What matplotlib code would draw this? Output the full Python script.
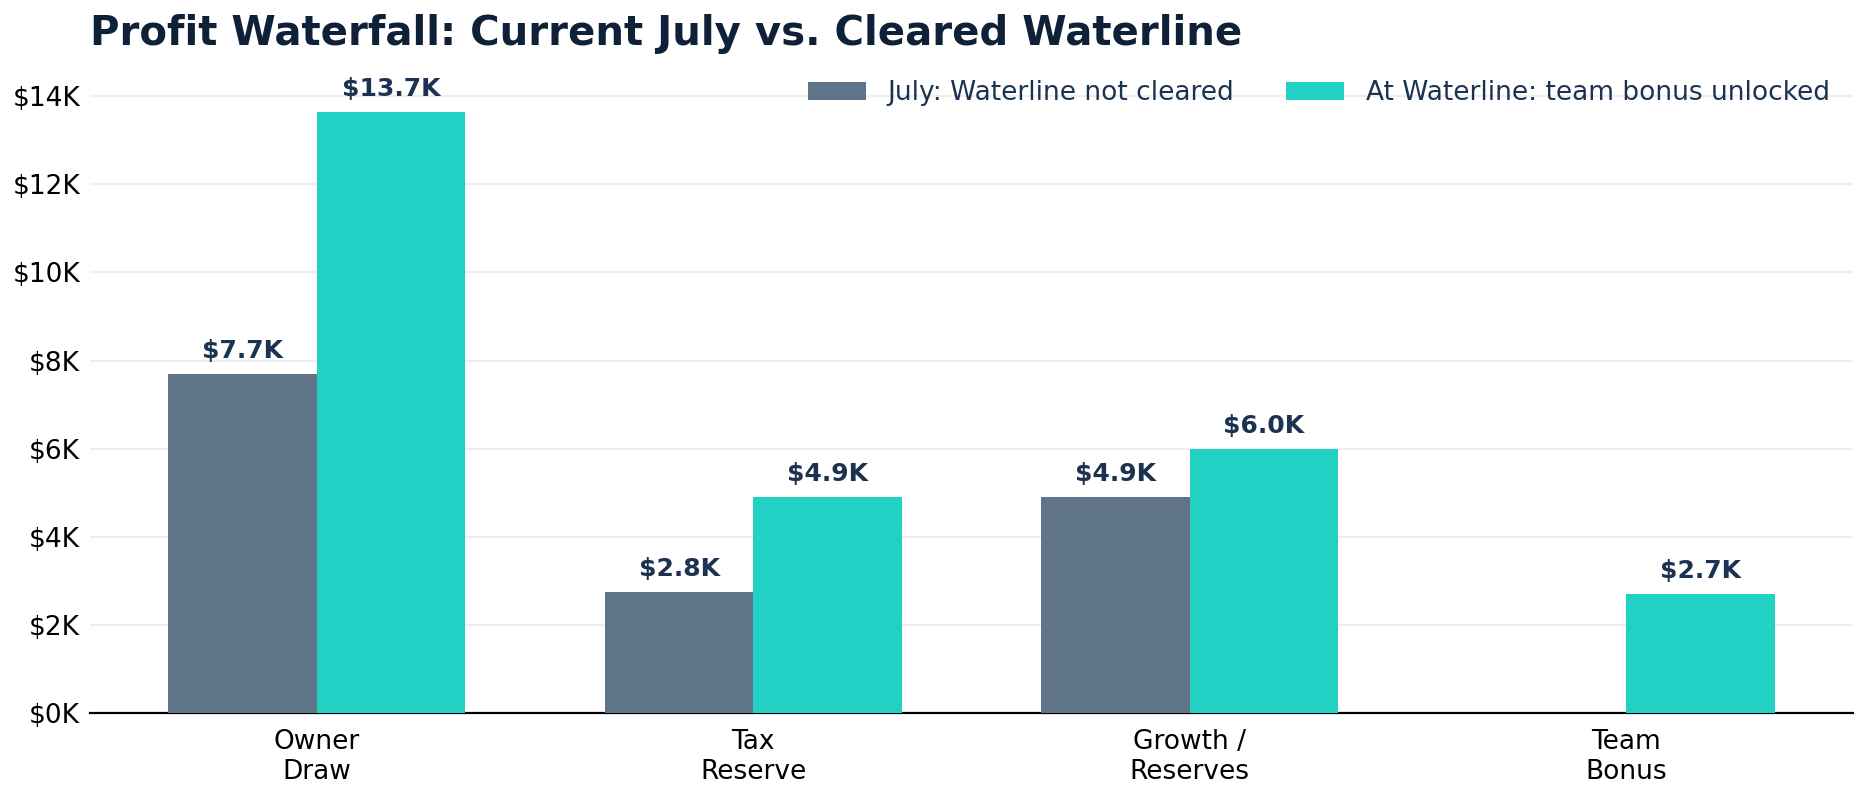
import matplotlib
matplotlib.use("Agg")
import matplotlib.pyplot as plt
import numpy as np
from matplotlib.ticker import FuncFormatter

categories = ["Owner\nDraw", "Tax\nReserve", "Growth /\nReserves", "Team\nBonus"]
july = [7700, 2750, 4900, 0]
waterline = [13650, 4900, 6000, 2700]
series_names = ["July: Waterline not cleared", "At Waterline: team bonus unlocked"]

fig = plt.figure(figsize=(9.36, 4.05), dpi=200)
ax = fig.add_axes([0.048, 0.12, 0.942, 0.81])
x = np.arange(len(categories))
w = 0.34
b1 = ax.bar(x - w/2, july, w, color="#5f7489", label=series_names[0], zorder=3)
b2 = ax.bar(x + w/2, waterline, w, color="#22d1c4", label=series_names[1], zorder=3)
for bars, vals in ((b1, july), (b2, waterline)):
    for r, v in zip(bars, vals):
        if v > 0:
            ax.text(r.get_x() + r.get_width()/2, v + 250, f"${v/1000:.1f}K", ha="center", va="bottom",
                    fontsize=9, fontweight="bold", color="#1b3350")
ax.set_ylim(0, 14900)
ax.set_xlim(-0.52, 3.52)
ax.set_yticks(range(0, 14001, 2000))
ax.yaxis.set_major_formatter(FuncFormatter(lambda v, p: f"${v/1000:.0f}K"))
ax.set_xticks(x)
ax.set_xticklabels(categories)
ax.tick_params(axis="both", labelsize=9.5, length=0)
ax.tick_params(axis="x", pad=6)
for s in ["top", "right", "left"]:
    ax.spines[s].set_visible(False)
ax.spines["bottom"].set_linewidth(0.8)
ax.grid(axis="y", color="#eeeeee", linewidth=0.8, zorder=0)
leg = ax.legend(loc="upper right", frameon=False, fontsize=9.5, ncol=2, handlelength=2.2, columnspacing=2)
for t in leg.get_texts():
    t.set_color("#1b3350")
fig.text(0.048, 0.958, "Profit Waterfall: Current July vs. Cleared Waterline", fontsize=14.5,
         fontweight="bold", color="#0f2139", va="center")
fig.savefig("out.png", dpi=200)
